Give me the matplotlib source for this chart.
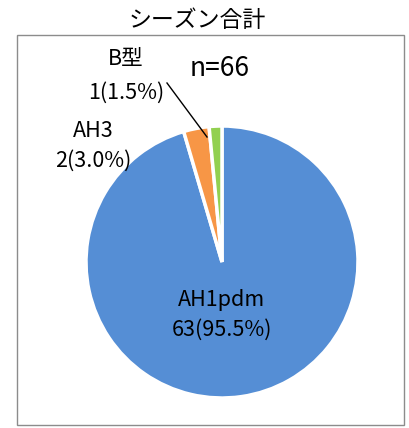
import matplotlib
matplotlib.use("Agg")
import matplotlib.pyplot as plt
from matplotlib.patches import Rectangle

plt.rcParams['font.family'] = ['Noto Sans CJK JP', 'DejaVu Sans']

# ============================================================
# DATA
# ============================================================

title = "シーズン合計"
types = ["AH1pdm", "AH3", "B型"]
counts = [63, 2, 1]
colors = ["#558ED5", "#F79646", "#92D050"]
total = sum(counts)

W, H = 410, 428

fig = plt.figure(figsize=(W / 100, H / 100), dpi=100)
ax = fig.add_axes([0, 0, 1, 1])
ax.set_xlim(0, W)
ax.set_ylim(0, H)
ax.set_aspect("equal")
ax.axis("off")

# frame around plot area
ax.add_patch(Rectangle((17, H - 425), 387, 390, fill=False,
                       edgecolor="#8C8C8C", linewidth=1))

ax.pie(counts, colors=colors, startangle=90, counterclock=False,
       center=(222, H - 262), radius=136,
       wedgeprops=dict(edgecolor="white", linewidth=2.5))
ax.set_xlim(0, W)
ax.set_ylim(0, H)

pct = [c / total * 100 for c in counts]
fs = 15.5

ax.text(197, H - 20, title, ha="center", va="center", fontsize=16.5)
ax.text(220, H - 68, f"n={total}", ha="center", va="center", fontsize=19)

# labels (pixel positions)
ax.text(222, H - 300, types[0], ha="center", va="center", fontsize=fs)
ax.text(222, H - 330, f"{counts[0]}({pct[0]:.1f}%)", ha="center", va="center", fontsize=fs)
ax.text(93, H - 131, types[1], ha="center", va="center", fontsize=fs)
ax.text(93, H - 161, f"{counts[1]}({pct[1]:.1f}%)", ha="center", va="center", fontsize=fs)
ax.text(126, H - 59, types[2], ha="center", va="center", fontsize=fs)
ax.text(126, H - 93, f"{counts[2]}({pct[2]:.1f}%)", ha="center", va="center", fontsize=fs)

# leader line for B
ax.plot([167, 207], [H - 83, H - 137], color="black", linewidth=1)

fig.savefig("out.png", dpi=100)
